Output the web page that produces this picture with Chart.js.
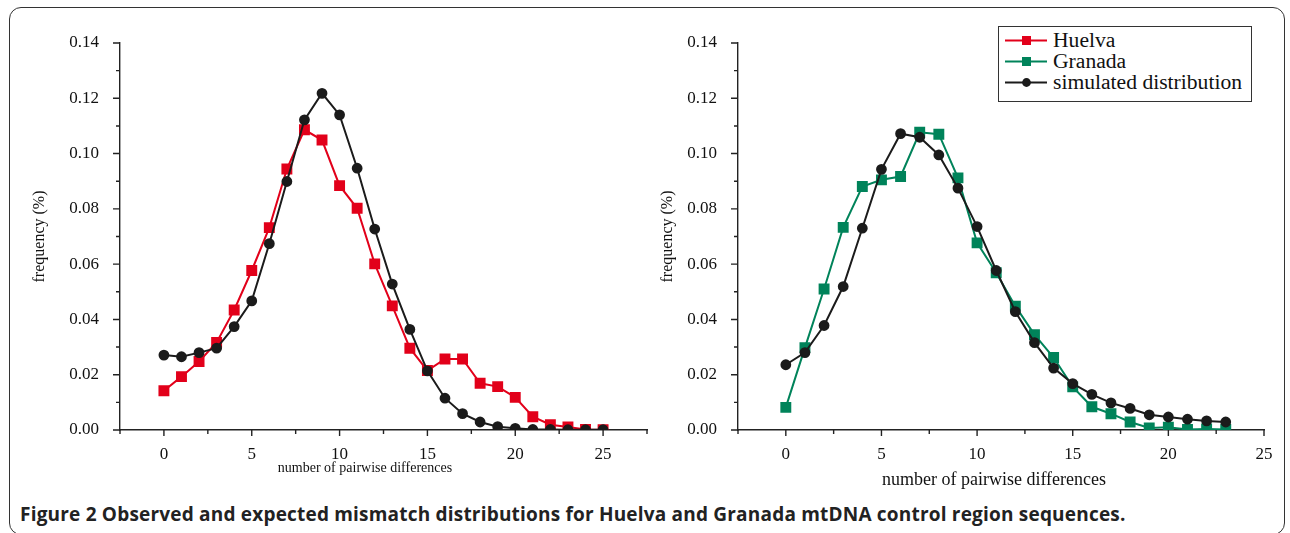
<!DOCTYPE html>
<html>
<head>
<meta charset="utf-8">
<script src="https://cdn.jsdelivr.net/npm/chart.js@4.4.1/dist/chart.umd.min.js"></script>
<style>
  html, body { margin:0; padding:0; background:#fff; }
  body { width:1290px; height:533px; position:relative; overflow:hidden; }
  #frame { position:absolute; left:9px; top:7px; width:1276px; height:528px; border:1.5px solid #333; border-radius:12px; box-sizing:border-box; }
  canvas { position:absolute; top:0; }
  #c1 { left:0; }
  #c2 { left:640px; }
  #legend { position:absolute; left:998px; top:26px; width:254px; height:76px; border:1px solid #333; background:#fff; box-sizing:border-box; font-family:"Liberation Serif", serif; font-size:20px; color:#111; padding-top:3px; }
  .row { height:21px; display:flex; align-items:center; white-space:nowrap; }
  .row svg { margin-left:6px; margin-right:6px; flex:none; }
  .row span { display:inline-block; transform:scaleX(1.08); transform-origin:left center; }
  #caption { position:absolute; left:20px; top:501px; font-family:"Open Sans", sans-serif; font-weight:700; font-size:19px; color:#222; white-space:nowrap; letter-spacing:0.2px; }
</style>
</head>
<body>
<div id="frame"></div>
<canvas id="c1" width="660" height="500"></canvas>
<canvas id="c2" width="650" height="500"></canvas>
<div id="legend"></div>
<div id="caption">Figure 2 Observed and expected mismatch distributions for Huelva and Granada mtDNA control region sequences.</div>
<script>
// ---- data ----
const diffsHuelva = [0,1,2,3,4,5,6,7,8,9,10,11,12,13,14,15,16,17,18,19,20,21,22,23,24,25];
const huelvaObserved = [0.0142,0.0193,0.0248,0.0317,0.0434,0.0577,0.0732,0.0944,0.1086,0.1049,0.0884,0.0802,0.0601,0.0449,0.0296,0.0215,0.0257,0.0257,0.0169,0.0157,0.0118,0.0048,0.0019,0.0011,0.0002,0.0001];
const huelvaSimulated = [0.0271,0.0265,0.0280,0.0296,0.0374,0.0467,0.0674,0.0899,0.1122,0.1218,0.1140,0.0947,0.0727,0.0528,0.0364,0.0214,0.0115,0.0059,0.0029,0.0012,0.0006,0.0002,0.0002,0.0001,0.0001,0.0001];

const diffsGranada = [0,1,2,3,4,5,6,7,8,9,10,11,12,13,14,15,16,17,18,19,20,21,22,23];
const granadaObserved = [0.0082,0.0298,0.0510,0.0733,0.0881,0.0905,0.0917,0.1077,0.1070,0.0912,0.0677,0.0569,0.0448,0.0345,0.0262,0.0156,0.0084,0.0059,0.0029,0.0007,0.0010,0.0002,0.0004,0.0002];
const granadaSimulated = [0.0236,0.0280,0.0378,0.0519,0.0730,0.0943,0.1072,0.1059,0.0995,0.0875,0.0736,0.0577,0.0428,0.0316,0.0224,0.0168,0.0129,0.0098,0.0078,0.0055,0.0047,0.0039,0.0033,0.0029];

const xMajorTicks = [0,5,10,15,20,25];
const yMajorTicks = [0,0.02,0.04,0.06,0.08,0.10,0.12,0.14];
const seriesNames = ['Huelva','Granada','simulated distribution'];
const xTitle = 'number of pairwise differences';
const yTitle = 'frequency (%)';
const colRed = '#e2001a', colGreen = '#00835a', colBlack = '#1b1b1b';

// ---- helpers ----
const serif = "'Liberation Serif', serif";
const axisColor = '#222';

const tickPlugin = {
  id: 'originTicks',
  afterDraw(chart, args, opts) {
    const ctx = chart.ctx, xs = chart.scales.x, ys = chart.scales.y;
    const ca = chart.chartArea;
    ctx.save();
    ctx.strokeStyle = axisColor; ctx.lineWidth = 1.4;
    ctx.beginPath();
    for (let v = xs.min; v <= xs.max + 1e-9; v += 2.5) {
      const px = xs.getPixelForValue(v);
      const major = Math.abs(v/5 - Math.round(v/5)) < 1e-6;
      ctx.moveTo(px, ca.bottom); ctx.lineTo(px, ca.bottom + (major ? 6 : 4));
    }
    for (let i = 0; i <= 14; i++) {
      const py = ys.getPixelForValue(i/100);
      ctx.moveTo(ca.left, py); ctx.lineTo(ca.left - (i % 2 === 0 ? 7 : 4), py);
    }
    ctx.stroke();
    // x axis title
    ctx.fillStyle = '#111';
    ctx.font = `${opts.xTitleSize}px ${serif}`;
    ctx.textAlign = 'center'; ctx.textBaseline = 'middle';
    ctx.fillText(xTitle, opts.xTitleX, opts.xTitleY);
    ctx.restore();
  }
};

function makeChart(id, labels, obs, sim, obsColor, obsName, xmin, xmax, yAxisW, yTitlePad, padRight, titleOpts) {
  const toPts = (arr) => arr.map((v, i) => ({x: labels[i], y: v}));
  return new Chart(document.getElementById(id), {
    type: 'line',
    data: {
      datasets: [
        { label: obsName, data: toPts(obs), borderColor: obsColor, backgroundColor: obsColor, borderWidth: 2,
          pointStyle: 'rect', pointRadius: 6.3, pointHoverRadius: 6.3, tension: 0, order: 2 },
        { label: seriesNames[2], data: toPts(sim), borderColor: colBlack, backgroundColor: colBlack, borderWidth: 2,
          pointStyle: 'circle', pointRadius: 4.4, pointHoverRadius: 4.4, tension: 0, order: 1 }
      ]
    },
    options: {
      responsive: false, animation: false, devicePixelRatio: 1,
      layout: { padding: { top: 43, right: padRight, left: 0, bottom: 0 } },
      plugins: { legend: { display: false }, tooltip: { enabled: false }, originTicks: titleOpts },
      scales: {
        x: {
          type: 'linear', min: xmin, max: xmax,
          afterBuildTicks: (s) => { s.ticks = xMajorTicks.map(v => ({value: v})); },
          afterFit: (s) => { s.height = 70; },
          grid: { display: false },
          border: { display: true, color: axisColor, width: 1.4 },
          ticks: { color: '#111', font: { family: serif, size: 17 }, padding: 6, maxRotation: 0, autoSkip: false },
          title: { display: false }
        },
        y: {
          type: 'linear', min: 0, max: 0.14,
          afterBuildTicks: (s) => { s.ticks = yMajorTicks.map(v => ({value: v})); },
          afterFit: (s) => { s.width = yAxisW; },
          grid: { display: false },
          border: { display: true, color: axisColor, width: 1.4 },
          ticks: { color: '#111', font: { family: serif, size: 17 }, padding: 13, callback: (v) => Number(v).toFixed(2) },
          title: { display: true, text: yTitle, color: '#111', font: { family: serif, size: 16 }, padding: { top: yTitlePad, bottom: 0 } }
        }
      }
    },
    plugins: [tickPlugin]
  });
}

makeChart('c1', diffsHuelva, huelvaObserved, huelvaSimulated, colRed, seriesNames[0], -2.5, 27.5, 120, 30, 13,
  { xTitleX: 365, xTitleY: 468, xTitleSize: 14 });
makeChart('c2', diffsGranada, granadaObserved, granadaSimulated, colGreen, seriesNames[1], -2.5, 25, 98, 18, 26,
  { xTitleX: 354, xTitleY: 480, xTitleSize: 18 });

// ---- legend ----
const legendItems = [
  { name: seriesNames[0], color: colRed, shape: 'rect' },
  { name: seriesNames[1], color: colGreen, shape: 'rect' },
  { name: seriesNames[2], color: colBlack, shape: 'circle' }
];
const lg = document.getElementById('legend');
legendItems.forEach(it => {
  const marker = it.shape === 'rect'
    ? `<rect x="17" y="1" width="9" height="9" fill="${it.color}"/>`
    : `<circle cx="21.5" cy="5.5" r="4.4" fill="${it.color}"/>`;
  lg.insertAdjacentHTML('beforeend',
    `<div class="row"><svg width="42" height="11"><line x1="0" y1="5.5" x2="42" y2="5.5" stroke="${it.color}" stroke-width="2"/>${marker}</svg><span>${it.name}</span></div>`);
});
</script>
</body>
</html>
